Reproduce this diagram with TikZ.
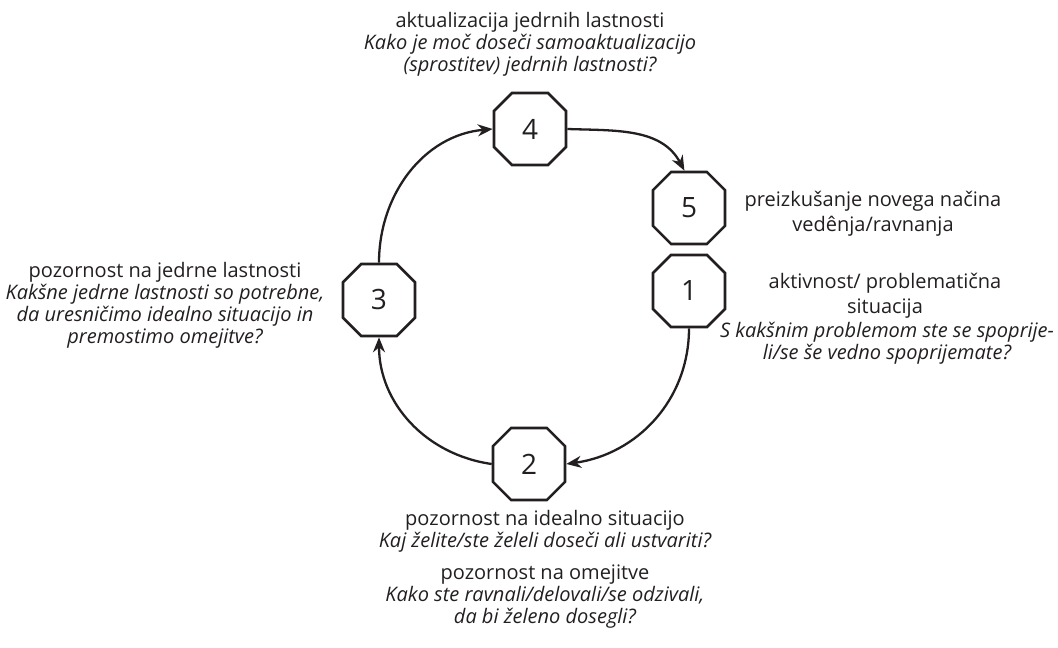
\documentclass[tikz,border=0pt]{standalone}
\usepackage{fontspec}
\setmainfont{Open Sans}
\usetikzlibrary{shapes.misc,arrows.meta}
\definecolor{ink}{HTML}{231F20}
\begin{document}
\begin{tikzpicture}[x=1pt,y=1pt,
  stagebox/.style={chamfered rectangle, draw=ink, line width=2.6pt,
    chamfered rectangle xsep=14pt, chamfered rectangle ysep=14pt,
    minimum width=72pt, minimum height=72pt, inner sep=0pt,
    font=\fontsize{28}{30}\selectfont, text=ink},
  capt/.style={align=center, inner sep=0pt, anchor=north, text=ink,
    font=\fontsize{20}{22}\selectfont},
  flow/.style={draw=ink, line width=2.3pt, -{Stealth[length=15pt,width=12pt]}}]
% Canvas in pixels of the source figure
\providecommand{\cycleW}{1058}
\providecommand{\cycleH}{648}
\useasboundingbox (0,0) rectangle (\cycleW,\cycleH);
% Stages of the cycle
\node[stagebox] (s4) at (530,519) {4};
\node[stagebox] (s5) at (689,440) {5};
\node[stagebox] (s1) at (689,357) {1};
\node[stagebox] (s3) at (379,348) {3};
\node[stagebox] (s2) at (529,184) {2};
% Connectors
\draw[flow] (s1.south) to[out=-90,in=8] (s2.east);
\draw[flow] (s2.west) to[out=172,in=-90] (s3.south);
\draw[flow] (s3.north) to[out=90,in=185] (s4.west);
\draw[flow] (s4.east) to[out=-2,in=118] (s5.97);
% Captions
\node[capt] (t4) at (530,636) {aktualizacija jedrnih lastnosti\\
  \itshape Kako je moč doseči samoaktualizacijo\\
  \itshape (sprostitev) jedrnih lastnosti?};
\node[capt] (t3) at (165,386) {pozornost na jedrne lastnosti\\
  \itshape Kakšne jedrne lastnosti so potrebne,\\
  \itshape da uresničimo idealno situacijo in\\
  \itshape premostimo omejitve?};
\node[capt] (t5) at (873,457) {preizkušanje novega načina\\[3pt]
  vedênja/ravnanja};
\node[capt] (t1) at (885,375) {aktivnost/ problematična\\[3pt]
  situacija};
\node[capt] (t1q) at (887,326) {\itshape S kakšnim problemom ste se spoprije-\\
  \itshape li/se še vedno spoprijemate?};
\node[capt] (t2) at (545,138) {pozornost na idealno situacijo\\
  \itshape Kaj želite/ste želeli doseči ali ustvariti?};
\node[capt] (t2b) at (545,83) {pozornost na omejitve\\
  \itshape Kako ste ravnali/delovali/se odzivali,\\
  \itshape da bi želeno dosegli?};
\end{tikzpicture}
\end{document}
